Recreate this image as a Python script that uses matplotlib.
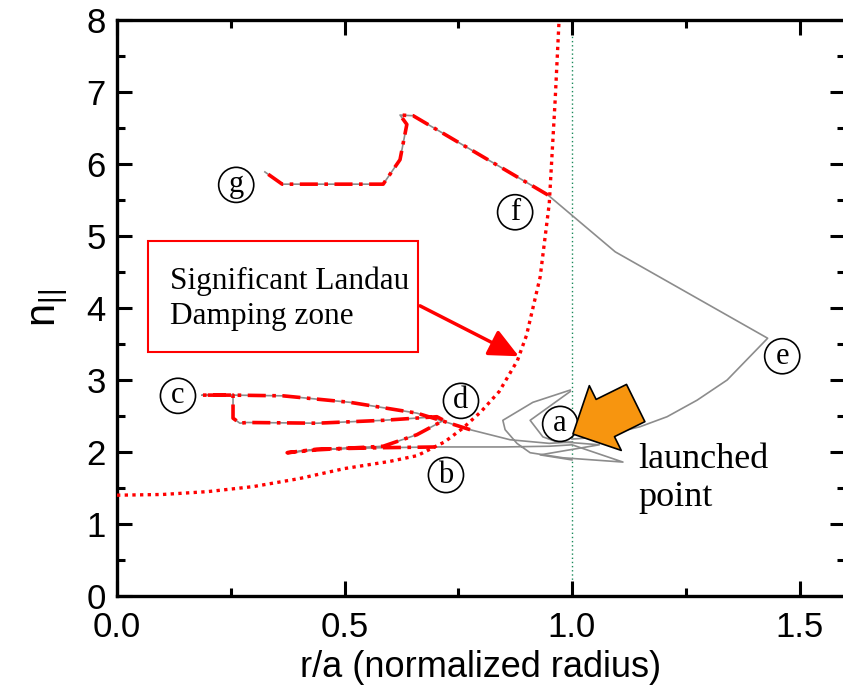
import matplotlib
matplotlib.use('Agg')
from matplotlib import pyplot as plt
from matplotlib.patches import Rectangle
from matplotlib.ticker import MultipleLocator

plt.rcParams['font.family'] = ['Liberation Sans', 'DejaVu Sans']

# Landau damping boundary (red dotted curve)
landau_r = [0.0, 0.1, 0.2, 0.3, 0.4, 0.5, 0.6, 0.66, 0.72, 0.76, 0.80, 0.84, 0.88, 0.90, 0.93, 0.95, 0.963, 0.972]
landau_n = [1.40, 1.41, 1.45, 1.52, 1.63, 1.77, 1.87, 1.95, 2.14, 2.33, 2.56, 2.84, 3.27, 3.62, 4.43, 5.45, 6.89, 8.05]

# inner ray path: launch -> d -> c -> lower loop -> b -> back near launch
ray_in_r = [1.00, 0.95, 0.864, 0.776, 0.716, 0.659, 0.512, 0.365, 0.255, 0.187, 0.255, 0.255, 0.27, 0.286,
            0.44, 0.585, 0.703, 0.718, 0.659, 0.585, 0.44, 0.374, 0.44, 0.585, 0.703, 0.85, 0.95, 1.00,
            1.112, 0.98, 0.908, 0.879, 0.853, 0.848, 0.914, 0.996]
ray_in_n = [2.14, 2.12, 2.17, 2.31, 2.43, 2.54, 2.69, 2.78, 2.79, 2.79, 2.79, 2.47, 2.40, 2.41,
            2.40, 2.44, 2.49, 2.44, 2.24, 2.08, 2.03, 1.99, 2.04, 2.06, 2.07, 2.07, 2.08, 2.10,
            1.86, 1.92, 1.99, 2.12, 2.31, 2.44, 2.69, 2.86]
damp_in = (3, 25)

# small inner loop around the launch point
loop_r = [0.996, 0.908, 0.936, 0.967, 1.00, 1.06, 0.93, 1.00]
loop_n = [2.84, 2.44, 2.21, 2.14, 2.13, 2.10, 1.96, 1.89]

# outer ray path: launch -> e -> f -> g
ray_out_r = [1.00, 1.024, 1.077, 1.149, 1.209, 1.275, 1.341, 1.43, 1.095, 0.947, 0.651, 0.622, 0.637,
             0.622, 0.585, 0.363, 0.325]
ray_out_n = [2.18, 2.19, 2.24, 2.35, 2.49, 2.72, 3.00, 3.58, 4.78, 5.57, 6.67, 6.68, 6.55,
             6.06, 5.72, 5.72, 5.89]
damp_out = (9, 17)

labels = ['a', 'b', 'c', 'd', 'e', 'f', 'g']
label_r = [0.974, 0.723, 0.134, 0.756, 1.462, 0.875, 0.262]
label_n = [2.39, 1.68, 2.78, 2.71, 3.33, 5.33, 5.71]

fig = plt.figure(figsize=(8.43, 6.87), dpi=100)
ax = fig.add_axes([117 / 843, 91 / 687, 728 / 843, 576 / 687])

gray = '#8c8c8c'
ax.plot(ray_in_r, ray_in_n, color=gray, lw=1.2, zorder=2)
ax.plot(loop_r, loop_n, color=gray, lw=1.2, zorder=2)
ax.plot(ray_out_r, ray_out_n, color=gray, lw=1.2, zorder=2)

dashdot = (0, (5, 1.8, 1, 1.8))
i, j = damp_in
ax.plot(ray_in_r[i:j], ray_in_n[i:j], color='red', lw=2.6, ls=dashdot, zorder=3)
i, j = damp_out
ax.plot(ray_out_r[i:j], ray_out_n[i:j], color='red', lw=2.6, ls=dashdot, zorder=3)

ax.plot(landau_r, landau_n, color='red', lw=2.4, ls=(0, (1, 1.3)), zorder=4)
ax.axvline(1.0, color='#1a8a5a', lw=1.0, ls=(0, (1, 2)), zorder=1)

for lab, r, n in zip(labels, label_r, label_n):
    ax.text(r, n, lab, fontsize=22, family='Liberation Serif', ha='center', va='center', zorder=6,
            bbox=dict(boxstyle='circle,pad=0.1', fc='white', ec='black', lw=1.2))

# boxed note with arrow to the damping boundary
ax.add_patch(Rectangle((0.068, 3.39), 0.594, 1.54, fc='white', ec='red', lw=1.5, zorder=5))
ax.text(0.116, 4.13, 'Significant Landau\nDamping zone', fontsize=22.5, family='Liberation Serif',
        ha='left', va='center', linespacing=1.3, zorder=6)
ax.annotate('', xy=(0.883, 3.33), xytext=(0.666, 4.03),
            arrowprops=dict(arrowstyle='-|>,head_length=1.5,head_width=0.7', color='red', lw=2.5,
                            mutation_scale=12, shrinkA=0, shrinkB=0), zorder=6)

ax.annotate('', xy=(1.002, 2.25), xytext=(1.14, 2.68),
            arrowprops=dict(arrowstyle='simple,head_length=1.0,head_width=2.0,tail_width=1.15',
                            fc='#F7950F', ec='black', lw=1.2, mutation_scale=26,
                            shrinkA=0, shrinkB=0), zorder=7)
ax.text(1.145, 1.63, 'launched\npoint', fontsize=26, family='Liberation Serif',
        ha='left', va='center', linespacing=1.2, zorder=6)

ax.set_xlim(0, 1.6)
ax.set_ylim(0, 8)
ax.xaxis.set_major_locator(MultipleLocator(0.5))
ax.xaxis.set_minor_locator(MultipleLocator(0.25))
ax.yaxis.set_major_locator(MultipleLocator(1))
ax.yaxis.set_minor_locator(MultipleLocator(0.5))
ax.xaxis.set_major_formatter(plt.FormatStrFormatter('%.1f'))
ax.tick_params(which='both', direction='in', top=True, right=True, labelsize=25, width=2.2)
ax.tick_params(axis='x', pad=11)
ax.tick_params(axis='y', pad=8)
ax.tick_params(which='major', length=11)
ax.tick_params(which='minor', length=6)
for s in ax.spines.values():
    s.set_linewidth(2.4)

ax.set_xlabel('r/a (normalized radius)', fontsize=26, labelpad=4)
ax.set_ylabel(r'$\mathregular{n_{||}}$', fontsize=30, labelpad=12)

fig.savefig('out.png', dpi=100)
